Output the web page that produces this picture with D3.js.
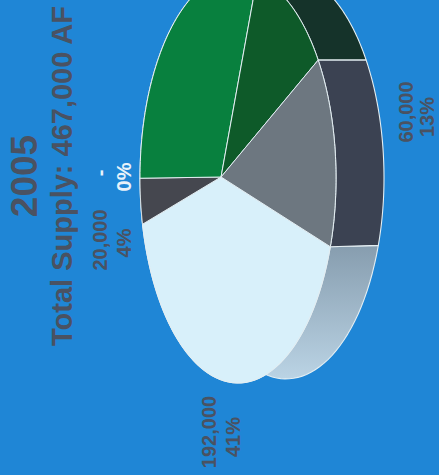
<!DOCTYPE html>
<html>
<head>
<meta charset="utf-8">
<script src="https://cdn.jsdelivr.net/npm/d3@7"></script>
<style>
html,body{margin:0;padding:0;background:#1f86d6;}
svg{display:block;}
text{font-family:"Liberation Sans",Arial,sans-serif;font-weight:bold;}
</style>
</head>
<body>
<svg id="chart" width="439" height="475"></svg>
<script>
// Water supply by source, 2005 (acre-feet)
const supply = [192000, 20000, 0, 144000, 51000, 60000];
const topColors = ["#d8f0fa", "#45474f", "#45474f", "#08803e", "#0e5a29", "#6d7780"];
const sideColors = ["url(#lightWall)", "#2d2f38", "#2d2f38", "#0a4a26", "#15332a", "#3b4252"];
const labelLines = [["192,000", "41%"], ["20,000", "4%"], ["-", "0%"], [], [], ["60,000", "13%"]];
const labelFill = ["#4a5262", "#4a5262", "#e8f2fa", null, null, "#4a5262"];
const title = "2005";
const subtitle = "Total Supply: 467,000 AF";

const W = 439, H = 475;
const svg = d3.select("#chart");
svg.append("rect").attr("width", W).attr("height", H).attr("fill", "#1f86d6");

const defs = svg.append("defs");
const grad = defs.append("linearGradient").attr("id", "lightWall")
  .attr("x1", 0).attr("y1", 0).attr("x2", 0).attr("y2", 1);
grad.append("stop").attr("offset", "0%").attr("stop-color", "#7e94a6");
grad.append("stop").attr("offset", "100%").attr("stop-color", "#bcd5e6");

// Tilted, perspective disc: ellipse centre, radii, hub offset and wall depth
const cx = 238, cy = 178, rx = 98, ry = 205, persp = -0.173, depth = 48;
const project = a => {
  // a is a d3.pie angle: clockwise from twelve o'clock
  const x = Math.sin(a), y = -Math.cos(a);
  const d = 1 + persp * x;
  return [cx + rx * (x + persp) / d, cy + ry * y * Math.sqrt(1 - persp * persp) / d];
};
const hub = [cx + rx * persp, cy - 1];

const start = (106.5 * Math.PI) / 180;
const arcs = d3.pie().sort(null).startAngle(start).endAngle(start + 2 * Math.PI)(supply);
const line = d3.line();
const samples = (a0, a1) => d3.range(0, 61).map(i => project(a0 + (a1 - a0) * i / 60));

const edge = "#e4eef2";

// Side wall of every slice; its outer rim sits a little flatter toward the viewer
const rim = p => [p[0] + depth, p[1] > cy ? cy + (p[1] - cy) * 0.98 : p[1]];
svg.append("g").selectAll("path").data(arcs.filter(d => d.value > 0)).join("path")
  .attr("d", d => {
    const inner = samples(d.startAngle, d.endAngle);
    return line(inner.concat(inner.map(rim).reverse())) + "Z";
  })
  .attr("fill", d => sideColors[d.index])
  .attr("stroke", edge).attr("stroke-width", 1.1).attr("stroke-linejoin", "round");

// Top faces
svg.append("g").selectAll("path").data(arcs.filter(d => d.value > 0)).join("path")
  .attr("d", d => line([hub].concat(samples(d.startAngle, d.endAngle))) + "Z")
  .attr("fill", d => topColors[d.index])
  .attr("stroke", edge).attr("stroke-width", 1).attr("stroke-linejoin", "round");

// All type on this sheet runs bottom to top
const rotated = (x, y, str, size, fill) => svg.append("text")
  .attr("transform", `translate(${x},${y}) rotate(-90)`)
  .attr("text-anchor", "middle").attr("font-size", size).attr("fill", fill).text(str);

rotated(37, 176, title, 37, "#4a5262");
rotated(72, 176, subtitle, 29, "#4a5262");

// Baseline x and centre y of each value line
const labelPos = [
  [[216, 432], [240, 437]],
  [[107, 240], [131, 243]],
  [[107, 173], [131, 177]],
  null, null,
  [[413, 112], [434, 117]]
];
arcs.forEach((d, i) => {
  if (!labelPos[i]) return;
  labelLines[i].forEach((t, j) => rotated(labelPos[i][j][0], labelPos[i][j][1], t, 20, labelFill[i]));
});
</script>
</body>
</html>
